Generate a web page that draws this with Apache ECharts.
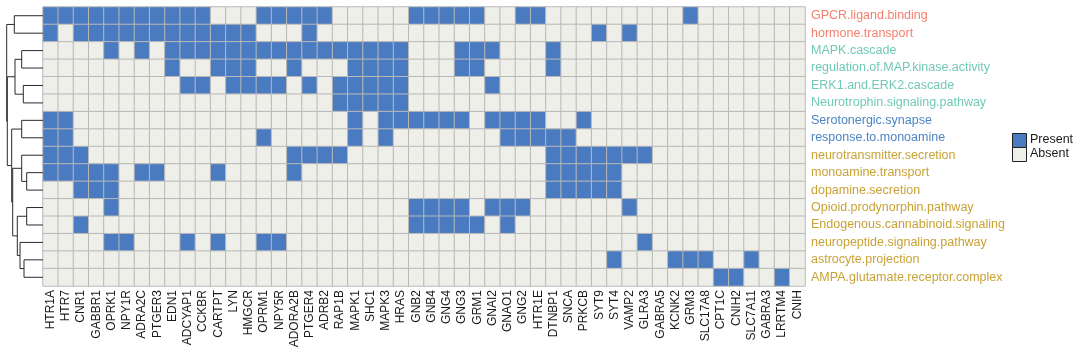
<!DOCTYPE html>
<html>
<head>
<meta charset="utf-8">
<script src="https://cdn.jsdelivr.net/npm/echarts@6/dist/echarts.min.js"></script>
<style>html,body{margin:0;padding:0;background:#fff;}#c{width:1080px;height:360px;}</style>
</head>
<body>
<div id="c"></div>
<script>
// ---- data ----
const genes = ['HTR1A','HTR7','CNR1','GABBR1','OPRK1','NPY1R','ADRA2C','PTGER3','EDN1','ADCYAP1','CCKBR','CARTPT','LYN','HMGCR','OPRM1','NPY5R','ADORA2B','PTGER4','ADRB2','RAP1B','MAPK1','SHC1','MAPK3','HRAS','GNB2','GNB4','GNG4','GNG3','GRM1','GNAI2','GNAO1','GNG2','HTR1E','DTNBP1','SNCA','PRKCB','SYT9','SYT4','VAMP2','GLRA3','GABRA5','KCNK2','GRM3','SLC17A8','CPT1C','CNIH2','SLC7A11','GABRA3','LRRTM4','CNIH'];
const pathways = ['GPCR.ligand.binding','hormone.transport','MAPK.cascade','regulation.of.MAP.kinase.activity','ERK1.and.ERK2.cascade','Neurotrophin.signaling.pathway','Serotonergic.synapse','response.to.monoamine','neurotransmitter.secretion','monoamine.transport','dopamine.secretion','Opioid.prodynorphin.pathway','Endogenous.cannabinoid.signaling','neuropeptide.signaling.pathway','astrocyte.projection','AMPA.glutamate.receptor.complex'];
const pathwayGroup = [0,0,1,1,1,1,2,2,3,3,3,3,3,3,3,3];
const groupColors = ['#F3806F','#72C9B6','#4C84C4','#C9A235'];
// genes present in each pathway
const present = [
  ['HTR1A','HTR7','CNR1','GABBR1','OPRK1','NPY1R','ADRA2C','PTGER3','EDN1','ADCYAP1','CCKBR','OPRM1','NPY5R','ADORA2B','PTGER4','ADRB2','GNB2','GNB4','GNG4','GNG3','GRM1','GNG2','HTR1E','GRM3'],
  ['HTR1A','CNR1','GABBR1','OPRK1','NPY1R','ADRA2C','PTGER3','EDN1','ADCYAP1','CCKBR','CARTPT','LYN','HMGCR','PTGER4','SYT9','VAMP2'],
  ['OPRK1','ADRA2C','EDN1','ADCYAP1','CCKBR','CARTPT','LYN','HMGCR','OPRM1','NPY5R','ADORA2B','PTGER4','ADRB2','RAP1B','MAPK1','SHC1','MAPK3','HRAS','GNG3','GRM1','GNAI2','DTNBP1'],
  ['EDN1','CARTPT','LYN','HMGCR','ADORA2B','MAPK1','SHC1','MAPK3','HRAS','GNG3','GRM1','DTNBP1'],
  ['ADCYAP1','CCKBR','LYN','HMGCR','OPRM1','NPY5R','PTGER4','RAP1B','MAPK1','SHC1','MAPK3','HRAS','GNAI2'],
  ['RAP1B','MAPK1','SHC1','MAPK3','HRAS'],
  ['HTR1A','HTR7','MAPK1','MAPK3','HRAS','GNB2','GNB4','GNG4','GNG3','GNAI2','GNAO1','GNG2','HTR1E','PRKCB'],
  ['HTR1A','HTR7','OPRM1','MAPK1','MAPK3','GNAO1','GNG2','HTR1E','DTNBP1','SNCA'],
  ['HTR1A','HTR7','CNR1','ADORA2B','PTGER4','ADRB2','RAP1B','DTNBP1','SNCA','PRKCB','SYT9','SYT4','VAMP2','GLRA3'],
  ['HTR1A','HTR7','CNR1','GABBR1','OPRK1','ADRA2C','PTGER3','CARTPT','ADORA2B','DTNBP1','SNCA','PRKCB','SYT9','SYT4'],
  ['CNR1','GABBR1','OPRK1','DTNBP1','SNCA','PRKCB','SYT9','SYT4'],
  ['OPRK1','GNB2','GNB4','GNG4','GNG3','GNAI2','GNAO1','GNG2','VAMP2'],
  ['CNR1','GNB2','GNB4','GNG4','GNG3','GRM1','GNAO1'],
  ['OPRK1','NPY1R','ADCYAP1','CARTPT','OPRM1','NPY5R','GLRA3'],
  ['SYT4','KCNK2','GRM3','SLC17A8','SLC7A11'],
  ['CPT1C','CNIH2','LRRTM4']
];
// row dendrogram: merge i joins mergeLeft[i] and mergeRight[i] at mergeHeight[i]
// numbers = leaf (row index), strings = earlier merge id
const mergeId     = ['A','P23','P45','B','C','P910','D','E','F','P13F','G','Y','CY','BX','root'];
const mergeLeft   = [0, 2, 4, 'P23', 6, 9, 8, 11, 14, 13, 'E', 'D', 'C', 'B', 'A'];
const mergeRight  = [1, 3, 5, 'P45', 7, 10, 'P910', 12, 15, 'F', 'P13F', 'G', 'Y', 'CY', 'BX'];
const mergeHeight = [28.7, 21.3, 19.7, 28, 21.3, 16.3, 21.3, 16.3, 19, 23, 25.7, 30.3, 31.3, 35.7, 36.3];

// ---- build ----
const heatData = [];
pathways.forEach((p, r) => {
  genes.forEach((g, c) => {
    heatData.push([c, r, present[r].includes(g) ? 1 : 0]);
  });
});

const nodes = {};
function nodeInfo(ref) {
  if (typeof ref === 'number') return {y: ref, h: 0};
  return nodes[ref];
}
const dendroData = [];
mergeId.forEach((id, i) => {
  const a = nodeInfo(mergeLeft[i]);
  const b = nodeInfo(mergeRight[i]);
  const H = mergeHeight[i];
  nodes[id] = {y: (a.y + b.y) / 2, h: H};
  dendroData.push([a.h, a.y, b.h, b.y, H]);
});

const FONT = '"Liberation Sans", Arial, Helvetica, sans-serif';
const chart = echarts.init(document.getElementById('c'), null, {renderer: 'canvas'});
const GT = 7, GB = 74;
chart.setOption({
  animation: false,
  textStyle: {fontFamily: FONT},
  grid: [
    {left: 43, right: 275, top: GT, bottom: GB},
    {left: 0, width: 43, top: GT, bottom: GB}
  ],
  xAxis: [
    {type: 'category', data: genes, gridIndex: 0,
     axisLine: {show: false}, axisTick: {show: false}, splitLine: {show: false},
     axisLabel: {rotate: 90, fontSize: 12, color: '#1a1a1a', margin: 4, fontFamily: FONT, interval: 0}},
    {type: 'value', gridIndex: 1, min: 0, max: 43, inverse: true, show: false}
  ],
  yAxis: [
    {type: 'category', data: pathways, gridIndex: 0, inverse: true, position: 'right',
     axisLine: {show: false}, axisTick: {show: false}, splitLine: {show: false},
     axisLabel: {fontSize: 12.5, margin: 6, fontFamily: FONT, interval: 0,
       color: (v, i) => groupColors[pathwayGroup[pathways.indexOf(v)]]}},
    {type: 'value', gridIndex: 1, min: -0.5, max: pathways.length - 0.5, inverse: true, show: false}
  ],
  visualMap: {
    show: false, type: 'piecewise', seriesIndex: 0, dimension: 2,
    pieces: [{value: 1, color: '#4A7BC1'}, {value: 0, color: '#EFEFEA'}]
  },
  series: [
    {type: 'heatmap', xAxisIndex: 0, yAxisIndex: 0, data: heatData,
     itemStyle: {borderColor: '#B8B8B8', borderWidth: 1}},
    {type: 'custom', xAxisIndex: 1, yAxisIndex: 1, data: dendroData, clip: false,
     renderItem: function (params, api) {
       const h1 = api.value(0), y1 = api.value(1), h2 = api.value(2), y2 = api.value(3), H = api.value(4);
       const p = [api.coord([h1, y1]), api.coord([H, y1]), api.coord([H, y2]), api.coord([h2, y2])];
       return {type: 'polyline', shape: {points: p},
               style: {stroke: '#2a2a2a', lineWidth: 1, fill: null}};
     }}
  ],
  graphic: [
    {type: 'rect', left: 1012, top: 133, shape: {width: 14, height: 14},
     style: {fill: '#4A7BC1', stroke: '#222', lineWidth: 1}},
    {type: 'rect', left: 1012, top: 147, shape: {width: 14, height: 14},
     style: {fill: '#EFEFEA', stroke: '#222', lineWidth: 1}},
    {type: 'text', left: 1030, top: 133, style: {text: 'Present', fontSize: 12.5, fill: '#1a1a1a', fontFamily: FONT}},
    {type: 'text', left: 1030, top: 147, style: {text: 'Absent', fontSize: 12.5, fill: '#1a1a1a', fontFamily: FONT}}
  ]
});
</script>
</body>
</html>
